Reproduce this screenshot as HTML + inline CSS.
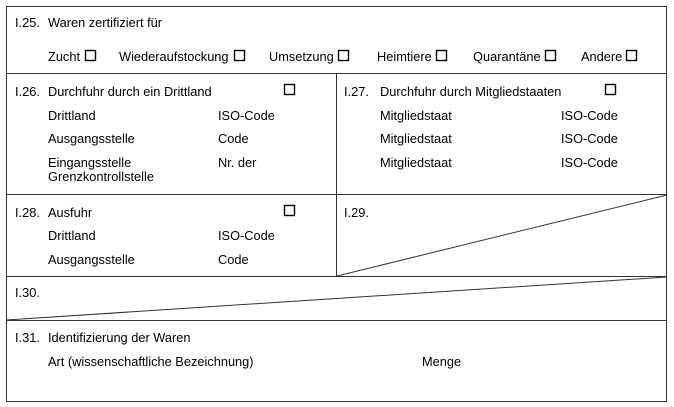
<!DOCTYPE html>
<html><head><meta charset="utf-8"><style>
html,body{margin:0;padding:0;background:#fff;width:674px;height:407px;overflow:hidden}
svg text{font-family:"Liberation Sans",Arial,sans-serif;font-size:12.8px;fill:#000}
</style></head><body>
<svg width="674" height="407" xmlns="http://www.w3.org/2000/svg">
<g stroke="#333" stroke-width="1" fill="none">
<rect x="6.5" y="6.5" width="660" height="395"/>
<line x1="6" y1="73.5" x2="667" y2="73.5"/>
<line x1="6" y1="194.5" x2="667" y2="194.5"/>
<line x1="6" y1="276.5" x2="667" y2="276.5"/>
<line x1="6" y1="320.5" x2="667" y2="320.5"/>
<line x1="336.5" y1="73" x2="336.5" y2="276"/>
<line x1="337" y1="276" x2="667" y2="195"/>
<line x1="6" y1="320" x2="667" y2="277"/>
</g>
<g stroke="#000" stroke-width="1.4" fill="none">
<rect x="85.5" y="50.5" width="10" height="10"/>
<rect x="234.5" y="50.5" width="10" height="10"/>
<rect x="338.5" y="50.5" width="10" height="10"/>
<rect x="436.5" y="50.5" width="10" height="10"/>
<rect x="545.5" y="50.5" width="10" height="10"/>
<rect x="626.5" y="50.5" width="10" height="10"/>
<rect x="284.5" y="84.5" width="10" height="10"/>
<rect x="605.5" y="84.5" width="10" height="10"/>
<rect x="284.5" y="205.5" width="10" height="10"/>
</g>
<text x="15" y="27">I.25.</text><text x="48" y="27">Waren zertifiziert für</text>
<text x="48" y="61">Zucht</text>
<text x="119" y="61">Wiederaufstockung</text>
<text x="269" y="61">Umsetzung</text>
<text x="377" y="61">Heimtiere</text>
<text x="473" y="61">Quarantäne</text>
<text x="581" y="61">Andere</text>
<text x="15" y="96">I.26.</text><text x="48" y="96">Durchfuhr durch ein Drittland</text>
<text x="48" y="120">Drittland</text><text x="218" y="120">ISO-Code</text>
<text x="48" y="143">Ausgangsstelle</text><text x="218" y="143">Code</text>
<text x="48" y="167">Eingangsstelle</text><text x="218" y="167">Nr. der</text>
<text x="48" y="181">Grenzkontrollstelle</text>
<text x="344" y="96">I.27.</text><text x="380" y="96">Durchfuhr durch Mitgliedstaaten</text>
<text x="380" y="120">Mitgliedstaat</text><text x="561" y="120">ISO-Code</text>
<text x="380" y="143">Mitgliedstaat</text><text x="561" y="143">ISO-Code</text>
<text x="380" y="167">Mitgliedstaat</text><text x="561" y="167">ISO-Code</text>
<text x="15" y="217">I.28.</text><text x="48" y="217">Ausfuhr</text>
<text x="48" y="240">Drittland</text><text x="218" y="240">ISO-Code</text>
<text x="48" y="264">Ausgangsstelle</text><text x="218" y="264">Code</text>
<text x="344" y="217">I.29.</text>
<text x="15" y="297">I.30.</text>
<text x="15" y="342">I.31.</text><text x="48" y="342">Identifizierung der Waren</text>
<text x="48" y="366">Art (wissenschaftliche Bezeichnung)</text>
<text x="422" y="366">Menge</text>
</svg>
</body></html>
